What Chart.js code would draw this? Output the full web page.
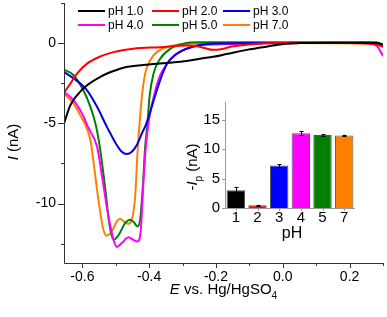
<!DOCTYPE html>
<html>
<head>
<meta charset="utf-8">
<script src="https://cdn.jsdelivr.net/npm/chart.js@4.4.1/dist/chart.umd.min.js"></script>
<style>
  html, body { margin: 0; padding: 0; background: #fff; }
  #wrap { position: relative; width: 387px; height: 317px; }
  #main { position: absolute; left: 0; top: 0; }
  #inset { position: absolute; left: 180px; top: 95px; }
</style>
</head>
<body>
<div id="wrap">
  <canvas id="main" width="387" height="317"></canvas>
  <canvas id="inset" width="207" height="155"></canvas>
</div>
<script>
// LSV curves, E in V vs Hg/HgSO4, I in nA
const ph1E = [-0.655, -0.636, -0.616, -0.586, -0.546, -0.507, -0.477, -0.418, -0.347, -0.288, -0.248, -0.208, -0.168, -0.108, -0.049, 0.011, 0.05, 0.15, 0.25, 0.285, 0.3];
const ph1I = [-5.0, -3.87, -3.25, -2.63, -2.1, -1.74, -1.53, -1.37, -1.24, -1.12, -0.97, -0.85, -0.68, -0.42, -0.22, -0.04, 0.0, 0.03, 0.03, 0.0, -0.1];

const ph2E = [-0.655, -0.636, -0.616, -0.586, -0.546, -0.507, -0.448, -0.367, -0.288, -0.26, -0.235, -0.21, -0.185, -0.15, -0.1, 0.0, 0.2, 0.27, 0.3];
const ph2I = [-3.1, -2.52, -1.9, -1.28, -0.83, -0.56, -0.35, -0.25, -0.15, -0.18, -0.3, -0.42, -0.38, -0.2, -0.08, 0.0, 0.0, -0.05, -0.2];

const ph3E = [-0.655, -0.626, -0.586, -0.556, -0.527, -0.516, -0.497, -0.482, -0.467, -0.452, -0.437, -0.422, -0.41, -0.397, -0.387, -0.367, -0.347, -0.317, -0.288, -0.25, -0.2, 0.0, 0.28, 0.3];
const ph3I = [-1.8, -2.2, -2.94, -3.97, -5.2, -5.63, -6.35, -6.77, -6.91, -6.77, -6.35, -5.63, -5.1, -4.3, -3.6, -2.3, -1.3, -0.66, -0.35, -0.12, -0.03, 0.0, 0.0, -0.15];

const ph4E = [-0.655, -0.626, -0.601, -0.581, -0.556, -0.541, -0.527, -0.516, -0.506, -0.497, -0.482, -0.462, -0.448, -0.435, -0.425, -0.418, -0.41, -0.402, -0.395, -0.387, -0.377, -0.367, -0.347, -0.327, -0.3, -0.28, -0.25, -0.2, -0.1, 0.0, 0.25, 0.28, 0.3];
const ph4I = [-3.04, -3.56, -4.39, -5.32, -6.46, -8.32, -10.19, -11.43, -12.3, -12.7, -12.46, -12.09, -12.25, -12.36, -11.63, -8.94, -6.46, -5.0, -4.1, -3.4, -2.6, -2.0, -1.3, -0.8, -0.45, -0.3, -0.15, -0.08, -0.03, 0.0, 0.0, -0.15, -0.8];

const ph5E = [-0.655, -0.626, -0.597, -0.576, -0.561, -0.551, -0.541, -0.531, -0.521, -0.514, -0.506, -0.491, -0.472, -0.457, -0.445, -0.435, -0.427, -0.419, -0.412, -0.405, -0.399, -0.387, -0.367, -0.337, -0.298, -0.25, 0.0, 0.28, 0.3];
const ph5I = [-1.65, -2.0, -2.94, -3.97, -5.0, -6.04, -7.49, -9.15, -11.0, -11.84, -12.25, -11.94, -11.22, -11.0, -11.18, -11.43, -11.0, -8.94, -6.46, -5.0, -3.35, -1.9, -0.97, -0.35, -0.04, 0.05, 0.05, 0.05, -0.1];

const ph7E = [-0.655, -0.626, -0.601, -0.591, -0.576, -0.566, -0.556, -0.546, -0.537, -0.527, -0.512, -0.497, -0.487, -0.475, -0.462, -0.452, -0.442, -0.435, -0.428, -0.422, -0.412, -0.397, -0.377, -0.337, -0.3, 0.0, 0.28, 0.3];
const ph7I = [-3.15, -3.77, -4.7, -5.1, -6.04, -7.49, -9.15, -10.6, -11.63, -12.0, -11.74, -11.12, -10.95, -11.12, -11.26, -11.0, -9.57, -6.87, -4.8, -3.35, -1.9, -1.07, -0.56, -0.2, -0.05, 0.0, -0.05, -0.25];

const seriesLabels = ["pH 1.0", "pH 2.0", "pH 3.0", "pH 4.0", "pH 5.0", "pH 7.0"];
const seriesColors = ["#000000", "#ff0000", "#0000e6", "#ff00ff", "#008000", "#ff8000"];

const xTicks = [-0.6, -0.4, -0.2, 0.0, 0.2];
const yTicks = [-10, -5, 0];

// inset: peak current vs pH
const phLabels = ["1", "2", "3", "4", "5", "7"];
const peakCurrent = [3.0, 0.45, 7.2, 12.7, 12.4, 12.3];
const peakError = [0.6, 0.1, 0.25, 0.3, 0.1, 0.15];
const insetTicks = [0, 5, 10, 15];

const FAMILY = "'Liberation Sans', Arial, sans-serif";
const AXIS = "#333";

function noPad(s) {
  s.paddingTop = 0; s.paddingBottom = 0; s.paddingLeft = 0; s.paddingRight = 0;
}

function richText(ctx, parts, cx, baseline, size) {
  const fontFor = (p) => (p.i ? "italic " : "") + (p.sub ? Math.round(size * 0.65) : size) + "px " + FAMILY;
  let w = 0;
  parts.forEach((p) => { ctx.font = fontFor(p); p.w = ctx.measureText(p.t).width; w += p.w; });
  let x = cx - w / 2;
  ctx.textAlign = "left";
  ctx.textBaseline = "alphabetic";
  parts.forEach((p) => {
    ctx.font = fontFor(p);
    ctx.fillText(p.t, x, baseline + (p.sub ? size * 0.3 : 0));
    x += p.w;
  });
}

const mainDecor = {
  id: "mainDecor",
  afterDraw(chart) {
    const { ctx, chartArea: a, scales: { x, y } } = chart;
    ctx.save();
    ctx.strokeStyle = AXIS;
    ctx.lineWidth = 1;
    ctx.beginPath();
    // axis lines
    ctx.moveTo(a.left + 0.5, a.top);
    ctx.lineTo(a.left + 0.5, a.bottom + 0.5);
    ctx.lineTo(a.right, a.bottom + 0.5);
    // x ticks, major every 0.2, minor between
    for (let k = -6; k <= 3; k++) {
      const px = Math.round(x.getPixelForValue(k / 10)) + 0.5;
      const len = k % 2 === 0 ? 5 : 3;
      ctx.moveTo(px, a.bottom);
      ctx.lineTo(px, a.bottom + len);
    }
    // y ticks, major every 5, minor between
    for (let k = 1; k >= -5; k--) {
      const py = Math.round(y.getPixelForValue(k * 2.5)) + 0.5;
      const len = k % 2 === 0 ? 6 : 3;
      ctx.moveTo(a.left, py);
      ctx.lineTo(a.left - len, py);
    }
    ctx.stroke();

    ctx.fillStyle = "#000";
    // x title
    richText(ctx, [{ t: "E", i: true }, { t: " vs. Hg/HgSO" }, { t: "4", sub: true }],
      (a.left + a.right) / 2, 294, 15);
    // y title
    ctx.save();
    ctx.translate(18, 142);
    ctx.rotate(-Math.PI / 2);
    richText(ctx, [{ t: "I", i: true }, { t: " (nA)" }], 0, 0, 15);
    ctx.restore();

    // legend, 3 columns x 2 rows
    const cols = [78, 152, 223];
    const rows = [11, 25];
    chart.data.datasets.forEach((ds, k) => {
      const lx = cols[k % 3];
      const ly = rows[Math.floor(k / 3)];
      ctx.strokeStyle = ds.borderColor;
      ctx.lineWidth = 2;
      ctx.beginPath();
      ctx.moveTo(lx, ly);
      ctx.lineTo(lx + 27, ly);
      ctx.stroke();
      ctx.fillStyle = "#000";
      ctx.font = "12px " + FAMILY;
      ctx.textAlign = "left";
      ctx.textBaseline = "middle";
      ctx.fillText(ds.label, lx + 30, ly + 0.5);
    });
    ctx.restore();
  }
};

const curves = [[ph1E, ph1I], [ph2E, ph2I], [ph3E, ph3I], [ph4E, ph4I], [ph5E, ph5I], [ph7E, ph7I]];

new Chart(document.getElementById("main"), {
  type: "line",
  data: {
    datasets: curves.map(([es, is], k) => ({
      label: seriesLabels[k],
      data: es.map((e, j) => ({ x: e, y: is[j] })),
      borderColor: seriesColors[k],
      borderWidth: 2,
      pointRadius: 0,
      fill: false,
      cubicInterpolationMode: "monotone",
    })),
  },
  options: {
    responsive: false,
    animation: false,
    layout: { padding: { top: 3, right: 4, left: 0, bottom: 0 } },
    plugins: { legend: { display: false }, tooltip: { enabled: false } },
    scales: {
      x: {
        type: "linear",
        min: -0.655,
        max: 0.3,
        afterFit: (s) => { s.height = 54; noPad(s); },
        afterBuildTicks: (s) => { s.ticks = xTicks.map((v) => ({ value: v })); },
        grid: { display: false, drawTicks: false },
        border: { display: false },
        ticks: {
          padding: 6, color: "#000", maxRotation: 0, autoSkip: false,
          font: { family: FAMILY, size: 14 },
          callback: (v) => Number(v).toFixed(1),
        },
      },
      y: {
        type: "linear",
        min: -13.7,
        max: 2.5,
        afterFit: (s) => { s.width = 64; noPad(s); },
        afterBuildTicks: (s) => { s.ticks = yTicks.map((v) => ({ value: v })); },
        grid: { display: false, drawTicks: false },
        border: { display: false },
        ticks: {
          padding: 8, color: "#000",
          font: { family: FAMILY, size: 14 },
          callback: (v) => String(v),
        },
      },
    },
  },
  plugins: [mainDecor],
});

const insetDecor = {
  id: "insetDecor",
  afterDraw(chart) {
    const { ctx, chartArea: a, scales: { x, y } } = chart;
    ctx.save();
    ctx.strokeStyle = "#999";
    ctx.lineWidth = 1;
    ctx.beginPath();
    ctx.moveTo(a.left + 0.5, a.top);
    ctx.lineTo(a.left + 0.5, a.bottom + 0.5);
    ctx.lineTo(a.right, a.bottom + 0.5);
    insetTicks.forEach((v) => {
      const py = Math.round(y.getPixelForValue(v)) + 0.5;
      ctx.moveTo(a.left, py);
      ctx.lineTo(a.left - 3, py);
    });
    phLabels.forEach((_, k) => {
      const px = Math.round(x.getPixelForValue(k)) + 0.5;
      ctx.moveTo(px, a.bottom);
      ctx.lineTo(px, a.bottom + 3);
    });
    ctx.stroke();

    // error bars
    const meta = chart.getDatasetMeta(0);
    ctx.strokeStyle = "#000";
    ctx.beginPath();
    meta.data.forEach((bar, k) => {
      const top = y.getPixelForValue(peakCurrent[k] + peakError[k]);
      const bot = y.getPixelForValue(peakCurrent[k] - peakError[k]);
      const bx = Math.round(bar.x) + 0.5;
      ctx.moveTo(bx, top); ctx.lineTo(bx, bot);
      ctx.moveTo(bx - 2, Math.round(top) + 0.5); ctx.lineTo(bx + 2, Math.round(top) + 0.5);
      ctx.moveTo(bx - 2, Math.round(bot) + 0.5); ctx.lineTo(bx + 2, Math.round(bot) + 0.5);
    });
    ctx.stroke();

    ctx.fillStyle = "#000";
    ctx.font = "16px " + FAMILY;
    ctx.textAlign = "center";
    ctx.textBaseline = "alphabetic";
    ctx.fillText("pH", (a.left + a.right) / 2 + 2, 143);

    ctx.save();
    ctx.translate(17, 72);
    ctx.rotate(-Math.PI / 2);
    richText(ctx, [{ t: "-" }, { t: "I", i: true }, { t: "p", sub: true }, { t: " (nA)" }], 0, 0, 15);
    ctx.restore();
    ctx.restore();
  }
};

new Chart(document.getElementById("inset"), {
  type: "bar",
  data: {
    labels: phLabels,
    datasets: [{
      data: peakCurrent,
      backgroundColor: seriesColors.map((c, k) => (k === 2 ? "#0000ff" : c)),
      borderColor: "#555",
      borderWidth: 1,
      barPercentage: 0.85,
      categoryPercentage: 1,
    }],
  },
  options: {
    responsive: false,
    animation: false,
    layout: { padding: { top: 7, right: 32, left: 0, bottom: 0 } },
    plugins: { legend: { display: false }, tooltip: { enabled: false } },
    scales: {
      x: {
        afterFit: (s) => { s.height = 42; noPad(s); },
        grid: { display: false, drawTicks: false },
        border: { display: false },
        ticks: { padding: 1, color: "#000", font: { family: FAMILY, size: 15 } },
      },
      y: {
        min: 0,
        max: 18,
        afterFit: (s) => { s.width = 45; noPad(s); },
        afterBuildTicks: (s) => { s.ticks = insetTicks.map((v) => ({ value: v })); },
        grid: { display: false, drawTicks: false },
        border: { display: false },
        ticks: { padding: 5, color: "#000", font: { family: FAMILY, size: 15 } },
      },
    },
  },
  plugins: [insetDecor],
});
</script>
</body>
</html>
